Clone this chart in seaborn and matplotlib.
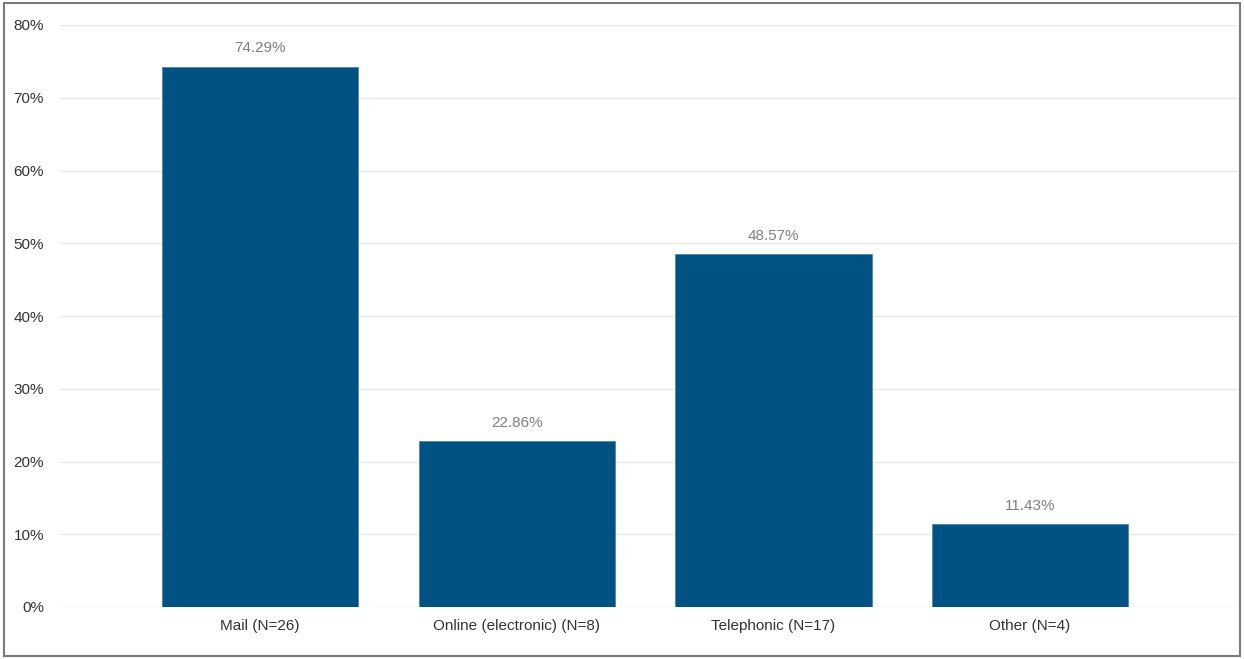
import matplotlib
matplotlib.use("Agg")
import matplotlib.pyplot as plt
from matplotlib.patches import Rectangle
from matplotlib.ticker import FuncFormatter
import seaborn as sns
import pandas as pd

categories = ["Mail (N=26)", "Online (electronic) (N=8)", "Telephonic (N=17)", "Other (N=4)"]
percentages = [74.29, 22.86, 48.57, 11.43]
y_ticks = [0, 10, 20, 30, 40, 50, 60, 70, 80]

sns.set_theme(style="white")
plt.rcParams["font.family"] = ["Liberation Sans", "DejaVu Sans"]

df = pd.DataFrame({"method": categories, "pct": percentages})

W, H = 1244, 659
fig = plt.figure(figsize=(W / 100, H / 100), dpi=100)
ax = fig.add_axes([60 / W, 1 - 607 / H, (1238 - 60) / W, (607 - 25) / H])

bar_color = "#005282"
sns.barplot(data=df, x="method", y="pct", color=bar_color, saturation=1,
            width=0.764, ax=ax, zorder=3)
for p in ax.patches:
    p.set_edgecolor("#4f86a8")
    p.set_linewidth(0.6)

ax.set_xlim(-0.78, 3.81)
ax.set_ylim(0, 80)
ax.set_yticks(y_ticks)
ax.yaxis.set_major_formatter(FuncFormatter(lambda v, _: f"{v:.0f}%"))
ax.grid(axis="y", color="#e8e8e8", linewidth=1.0, zorder=0)
ax.set_axisbelow(True)
for s in ax.spines.values():
    s.set_visible(False)
ax.set_xlabel("")
ax.set_ylabel("")
ax.tick_params(axis="y", length=0, pad=11.5, labelsize=11, labelcolor="#333333")
ax.tick_params(axis="x", length=0, pad=8.5, labelsize=11, labelcolor="#333333")

for i, v in enumerate(percentages):
    ax.annotate(f"{v:.2f}%", xy=(i, v), xytext=(0, 13), textcoords="offset points",
                ha="center", va="center", fontsize=11, color="#7f7f7f")

fig.patches.append(Rectangle((4 / W, 3 / H), (1240 - 4) / W, (656 - 3) / H,
                             transform=fig.transFigure, fill=False,
                             edgecolor="#7a7a7a", linewidth=1.5))

fig.savefig("out.png", dpi=100, facecolor="white")
